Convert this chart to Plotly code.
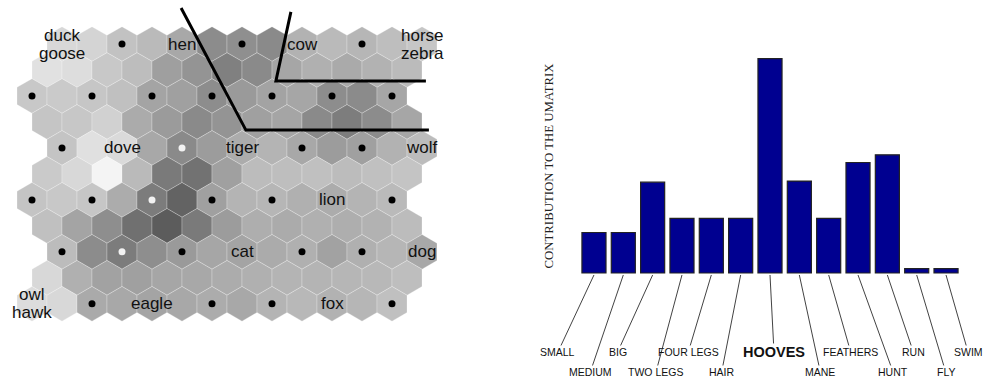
import math
import plotly.graph_objects as go

# ---------------------------------------------------------------------------
# Left panel: hexagonal U-matrix of a 7x6 animal SOM (11 x 13 U-matrix cells)
# Shade of each cell: 0 = black, 255 = white; top row first.
# ---------------------------------------------------------------------------
umatrix_shade = [
    [216, 212, 194, 186, 168, 140, 143, 138, 178, 186, 182, 190, 198],
    [225, 221, 200, 189, 159, 148, 128, 138, 166, 176, 170, 178, 187],
    [200, 202, 198, 192, 164, 160, 141, 154, 163, 166, 141, 139, 166],
    [197, 199, 209, 171, 155, 138, 148, 160, 165, 138, 125, 140, 166],
    [196, 224, 218, 168, 138, 156, 172, 180, 168, 156, 160, 178, 188],
    [202, 216, 244, 186, 122, 114, 160, 188, 190, 192, 188, 192, 196],
    [196, 200, 198, 172, 124, 99, 160, 180, 182, 176, 172, 180, 186],
    [192, 164, 142, 112, 92, 122, 156, 174, 171, 176, 174, 178, 188],
    [188, 140, 124, 142, 154, 166, 164, 171, 176, 162, 176, 182, 168],
    [216, 176, 162, 160, 166, 168, 172, 176, 180, 180, 182, 184, 190],
    [220, 216, 170, 168, 164, 168, 172, 168, 180, 184, 178, 182, 192],
]

# Map units that carry an animal label (U-matrix row, column, text)
label_rows = [0, 0, 0, 0, 4, 4, 4, 6, 8, 8, 10, 10, 10]
label_cols = [0, 4, 8, 12, 2, 6, 12, 10, 6, 12, 0, 4, 10]
label_texts = ["duck<br>goose", "hen", "cow", "horse<br>zebra", "dove", "tiger",
               "wolf", "lion", "cat", "dog", "owl<br>hawk", "eagle", "fox"]

# Unlabelled units drawn with a light marker (they sit on dark cells)
light_dot_rows = [4, 6, 8]
light_dot_cols = [4, 4, 2]

# Cluster borders, in map coordinates (cell widths / cell rows)
border_a_x = [4.97, 7.13, 13.23]
border_a_y = [-1.20, 2.87, 2.87]
border_b_x = [8.63, 8.13, 13.13]
border_b_y = [-1.07, 1.23, 1.23]

# ---------------------------------------------------------------------------
# Right panel: feature contributions to the U-matrix
# ---------------------------------------------------------------------------
features = ["SMALL", "MEDIUM", "BIG", "TWO LEGS", "FOUR LEGS", "HAIR", "HOOVES",
            "MANE", "FEATHERS", "HUNT", "RUN", "FLY", "SWIM"]
contribution = [0.37, 0.37, 0.83, 0.50, 0.50, 0.50, 1.96, 0.84, 0.50, 1.01, 1.08, 0.04, 0.04]
highlighted = "HOOVES"

# ---------------------------------------------------------------------------
W, H = 990, 380
FONT = "Liberation Sans, Arial, Helvetica, sans-serif"
SERIF = "Liberation Serif, Times New Roman, serif"

R = 1 / math.sqrt(3)          # hexagon circumradius for unit cell width
ROW_H = math.sqrt(3) / 2      # vertical spacing of hexagon rows


def row_shift(r):
    if r % 4 == 0:
        return 1.0
    if r % 2 == 1:
        return 0.5
    return 0.0


def cell_center(r, c):
    return c + row_shift(r), r * ROW_H


fig = go.Figure()
shapes = []
for r, row in enumerate(umatrix_shade):
    for c, g in enumerate(row):
        cx, cy = cell_center(r, c)
        pts = []
        for k in range(6):
            a = math.radians(30 + 60 * k)
            pts.append((cx + R * math.cos(a), cy + R * math.sin(a)))
        path = "M " + " L ".join(f"{x:.4f},{y:.4f}" for x, y in pts) + " Z"
        shapes.append(dict(
            type="path", path=path, xref="x", yref="y", layer="below",
            fillcolor=f"rgb({g},{g},{g})",
            line=dict(color="rgba(255,255,255,0.35)", width=0.7),
        ))

# unit markers
labelled = set(zip(label_rows, label_cols))
light = set(zip(light_dot_rows, light_dot_cols))
dark_x, dark_y, lt_x, lt_y = [], [], [], []
for r in range(0, len(umatrix_shade), 2):
    for c in range(0, len(umatrix_shade[r]), 2):
        if (r, c) in labelled:
            continue
        x, y = cell_center(r, c)
        if (r, c) in light:
            lt_x.append(x); lt_y.append(y)
        else:
            dark_x.append(x); dark_y.append(y)

fig.add_trace(go.Scatter(x=dark_x, y=dark_y, mode="markers", xaxis="x", yaxis="y",
                         marker=dict(size=7, color="black"), hoverinfo="skip"))
fig.add_trace(go.Scatter(x=lt_x, y=lt_y, mode="markers", xaxis="x", yaxis="y",
                         marker=dict(size=7, color="#f2f2f2"), hoverinfo="skip"))

for bx, by in ((border_a_x, border_a_y), (border_b_x, border_b_y)):
    fig.add_trace(go.Scatter(x=bx, y=by, mode="lines", xaxis="x", yaxis="y",
                             line=dict(color="black", width=3), hoverinfo="skip"))

annotations = []
for r, c, txt in zip(label_rows, label_cols, label_texts):
    x, y = cell_center(r, c)
    lines = txt.split("<br>")
    n = len(lines)
    for i, ln in enumerate(lines):
        annotations.append(dict(
            x=x, y=y, xref="x", yref="y", text=ln, showarrow=False,
            yshift=(n - 1) * 9 - i * 18,
            font=dict(family=FONT, size=17, color="#111"),
        ))

# bars
fig.add_trace(go.Bar(
    x=features, y=contribution, xaxis="x2", yaxis="y2",
    marker=dict(color="#000090", line=dict(color="#222", width=1.2)),
    hoverinfo="skip",
))

# feature names with leader lines (offsets in pixels)
label_dx = [-36, -33, -35, -26, -23, -19, 4, 21, 22, 35, 26, 29, 22]
label_dy = [77, 97, 77, 97, 77, 97, 77, 97, 77, 97, 77, 97, 77]
for f, dx, dy in zip(features, label_dx, label_dy):
    bold = f == highlighted
    annotations.append(dict(
        x=f, y=-0.018, xref="x2", yref="y2",
        text=f"<b>{f}</b>" if bold else f,
        showarrow=True, arrowhead=0, arrowwidth=0.8, arrowcolor="#111",
        ax=dx, ay=dy, borderpad=0,
        font=dict(family=FONT, size=14.5 if bold else 10.5, color="#111"),
    ))

annotations.append(dict(
    x=548.5 / W, y=1 - 166 / H, xref="paper", yref="paper",
    text="CONTRIBUTION TO THE UMATRIX", showarrow=False, textangle=-90,
    font=dict(family=SERIF, size=12.8, color="#222"),
))

PX = 30.0  # pixels per map unit
BAR_PX = 109.4  # pixels per unit of contribution
hidden = dict(visible=False, showgrid=False, zeroline=False, fixedrange=True)

fig.update_layout(
    width=W, height=H, autosize=False,
    margin=dict(l=0, r=0, t=0, b=0),
    paper_bgcolor="white", plot_bgcolor="white",
    showlegend=False, bargap=0.18,
    shapes=shapes, annotations=annotations,
    xaxis=dict(domain=[0, 0.5], range=[-32 / PX, (495 - 32) / PX], **hidden),
    yaxis=dict(domain=[0, 1], range=[(H - 44) / PX, -44 / PX], **hidden),
    xaxis2=dict(domain=[579.3 / W, 960.7 / W], range=[-0.5, 12.5], anchor="y2",
                type="category", **hidden),
    yaxis2=dict(domain=[0, 1], range=[-(H - 273) / BAR_PX, 273 / BAR_PX],
                anchor="x2", **hidden),
)

fig.write_html("out.html")
